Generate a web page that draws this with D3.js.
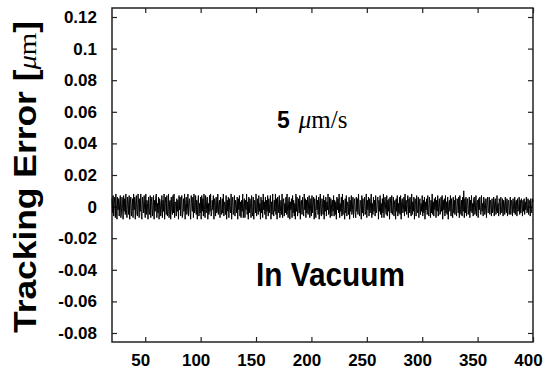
<!DOCTYPE html>
<html>
<head>
<meta charset="utf-8">
<script src="https://cdn.jsdelivr.net/npm/d3@7"></script>
<style>
  body { margin: 0; background: #fff; }
  text { fill: #000; }
</style>
</head>
<body>
<div id="chart"></div>
<script>
// time axis (s), sampled every half second
const startTime = 20;
const stepTime = 0.5;

// tracking error in nm (converted to um below)
const errorNm = [
  5,-4,7,-6,2,6,-7,8,-3,-8,6,-2,5,-6,3,7,-7,-4,6,2,-8,7,-3,5,-5,8,-2,-7,6,3,-5,7,-8,2,6,-6,-3,5,-7,8,
  -2,6,-8,3,7,-5,-6,8,2,-7,5,-3,8,-6,-8,6,3,-4,7,-2,-7,8,-5,4,2,-8,6,-3,-5,7,-7,3,6,-6,-2,7,-8,4,-3,6,
  8,-7,2,-4,6,-8,5,3,-6,-2,7,-7,4,-3,8,-8,2,6,-5,7,-6,-3,8,-7,3,4,-8,6,-2,-5,7,-4,8,-7,3,2,-6,5,-3,4,
  -8,7,-2,6,-6,3,7,-7,-4,5,-3,8,-8,2,6,-5,-2,8,-6,3,5,-4,-8,7,2,-3,6,-7,8,-4,-2,7,-5,4,-8,3,7,-6,2,-4,
  6,-8,7,-3,5,-6,8,-2,-7,7,-4,3,6,-8,2,-5,7,-3,8,-6,-4,4,-2,7,-8,5,3,-6,6,-4,-3,8,-5,2,4,-7,6,-2,-5,5,
  -4,8,-6,3,2,-5,7,-8,4,-3,6,-7,5,-2,-4,8,-8,3,6,-5,-3,7,-6,4,2,-4,6,-8,5,-2,7,-6,3,-7,4,-3,8,-7,2,5,
  -7,4,-2,8,-5,3,-8,6,-4,5,2,-7,7,-3,-6,6,-8,4,3,-4,8,-6,-2,5,-5,7,-3,2,-8,6,-4,4,-7,8,-2,3,-5,6,-8,4,
  -3,7,-6,5,-4,2,7,-8,3,-5,8,-2,-6,4,-3,8,-5,5,-8,6,2,-4,7,-7,-3,4,-5,8,-7,3,5,-6,2,-4,6,-5,8,-3,-7,4,
  6,-8,3,-2,5,-7,7,-4,4,-6,2,-8,8,-3,6,-6,-2,5,-4,7,-8,3,4,-5,6,-3,-6,8,-2,5,-7,4,-4,6,-5,3,7,-7,-3,5,
  -6,7,-4,2,6,-8,5,-3,-7,7,-2,4,-5,6,-8,3,8,-4,-6,5,2,-5,7,-8,4,-3,6,-6,3,-2,8,-5,-4,6,-7,5,2,-6,4,-3,
  7,-6,4,-5,3,-8,6,-2,5,-4,8,-7,2,-3,6,-6,8,-5,4,-2,-8,5,-4,7,-6,3,2,-5,6,-8,4,-3,7,-5,-2,6,-7,3,5,-4,
  -7,6,-3,5,-5,8,-2,-6,4,3,-8,7,-4,5,-6,2,6,-5,-3,8,-7,4,-2,6,-6,5,-4,3,8,-7,2,-5,6,-3,4,-6,7,-4,-2,5,
  6,-8,4,-3,7,-5,2,-7,5,-4,8,-7,3,6,-2,-5,7,-6,4,-3,5,-8,6,2,-4,7,-5,-2,6,-6,3,4,-8,5,-3,7,-6,2,-4,6,
  -5,7,-8,3,5,-4,-2,6,-6,8,-3,4,-5,2,7,-7,5,-4,6,-2,-6,8,-5,3,-3,6,-8,5,4,-6,7,-2,-4,6,-7,3,5,-5,2,-3,
  7,-6,4,-4,6,-8,3,-2,5,-5,7,-3,-6,6,2,-7,4,-4,8,-5,3,-6,5,-2,6,-7,4,-3,7,-6,2,5,-5,-4,6,-3,7,-8,4,-2,
  5,-6,7,-4,3,-5,6,-8,2,4,-3,7,-6,5,-2,-7,6,-4,4,-5,7,-3,-6,5,3,-4,6,-7,7,-2,-5,4,-6,6,-3,10,-7,5,-4,6,
  -6,3,5,-5,-2,6,-7,4,-3,7,-4,2,-6,5,6,-5,-3,7,-6,3,4,-7,5,-2,6,-4,-5,7,-3,2,-6,6,4,-5,-2,5,-7,3,6,-4,
  -3,6,-5,4,2,-6,5,-4,-2,6,-6,3,5,-5,-3,7,-4,2,-6,5,3,-5,6,-3,-4,5,-6,4,2,-5,6,-2,-4,5,-6,3,4,-5,-2,6,
  -5,4,3,-6,5,-2,-4,6,-5,3,4,-6,5,-3,-2,6,-5,4,-4,5,2,-6,4,-3,5,-5,3,-2,6,-4,-3,5,-5,4,2,-6,5,-3,-4,5,
  3
];

const xTicks = [50, 100, 150, 200, 250, 300, 350, 400];
const yTicks = [-0.08, -0.06, -0.04, -0.02, 0, 0.02, 0.04, 0.06, 0.08, 0.1, 0.12];

const width = 544;
const height = 372;
const margin = { top: 8, right: 11, bottom: 30, left: 112 };
const innerW = width - margin.left - margin.right;
const innerH = height - margin.top - margin.bottom;

const data = errorNm.map((v, i) => ({ t: startTime + i * stepTime, e: v / 1000 }));

const svg = d3.select('#chart')
    .append('svg')
    .attr('width', width)
    .attr('height', height);

const g = svg.append('g')
    .attr('transform', 'translate(' + margin.left + ',' + margin.top + ')');

const x = d3.scaleLinear().domain([20, 400]).range([0, innerW]);
const y = d3.scaleLinear().domain([-0.0857, 0.1257]).range([innerH, 0]);

const tickFont = 'bold 17px "Liberation Sans", Arial, sans-serif';
const fmt = d3.format('~g');

// left axis with labels
const yAxis = g.append('g')
    .call(d3.axisLeft(y).tickValues(yTicks).tickSize(-5).tickPadding(15)
      .tickFormat(d => fmt(d).replace('\u2212', '-')));
yAxis.select('.domain').remove();
yAxis.selectAll('text').style('font', tickFont);

// right axis, ticks only
const yAxisR = g.append('g')
    .attr('transform', 'translate(' + innerW + ',0)')
    .call(d3.axisRight(y).tickValues(yTicks).tickSize(-5).tickFormat(''));
yAxisR.select('.domain').remove();

// bottom axis with labels
const xAxis = g.append('g')
    .attr('transform', 'translate(0,' + innerH + ')')
    .call(d3.axisBottom(x).tickValues(xTicks).tickSize(-5).tickPadding(12));
xAxis.select('.domain').remove();
xAxis.selectAll('text').style('font', tickFont).attr('dx', -5);

// top axis, ticks only
const xAxisT = g.append('g')
    .call(d3.axisTop(x).tickValues(xTicks).tickSize(-5).tickFormat(''));
xAxisT.select('.domain').remove();

g.selectAll('.tick line').attr('stroke', '#222').attr('stroke-width', 1.2);

// frame
g.append('rect')
    .attr('width', innerW)
    .attr('height', innerH)
    .attr('fill', 'none')
    .attr('stroke', '#222')
    .attr('stroke-width', 1.5);

// trace
const line = d3.line()
    .x(d => x(d.t))
    .y(d => y(d.e));

g.append('path')
    .datum(data)
    .attr('fill', 'none')
    .attr('stroke', '#000')
    .attr('stroke-width', 1)
    .attr('d', line);

// y label
const yLabel = svg.append('text')
    .attr('transform', 'translate(36,177) rotate(-90)')
    .attr('text-anchor', 'middle')
    .attr('textLength', 312)
    .attr('lengthAdjust', 'spacingAndGlyphs')
    .style('font', 'bold 32px "Liberation Sans", Arial, sans-serif');
yLabel.append('tspan').text('Tracking Error [');
yLabel.append('tspan').style('font', 'italic 26px "Liberation Serif", serif').text('\u03bc');
yLabel.append('tspan').style('font', '26px "Liberation Serif", serif').text('m');
yLabel.append('tspan').text(']');

// annotations
const speed = g.append('text')
    .attr('x', 165)
    .attr('y', 120);
speed.append('tspan')
    .style('font', 'bold 23px "Liberation Sans", Arial, sans-serif')
    .text('5');
speed.append('tspan')
    .attr('dx', 9)
    .style('font', 'italic 25px "Liberation Serif", serif')
    .text('\u03bc');
speed.append('tspan')
    .style('font', '25px "Liberation Serif", serif')
    .text('m/s');

g.append('text')
    .attr('x', 218.5)
    .attr('y', 278)
    .attr('text-anchor', 'middle')
    .attr('textLength', 149)
    .attr('lengthAdjust', 'spacingAndGlyphs')
    .style('font', 'bold 34px "Liberation Sans", Arial, sans-serif')
    .text('In Vacuum');
</script>
</body>
</html>
